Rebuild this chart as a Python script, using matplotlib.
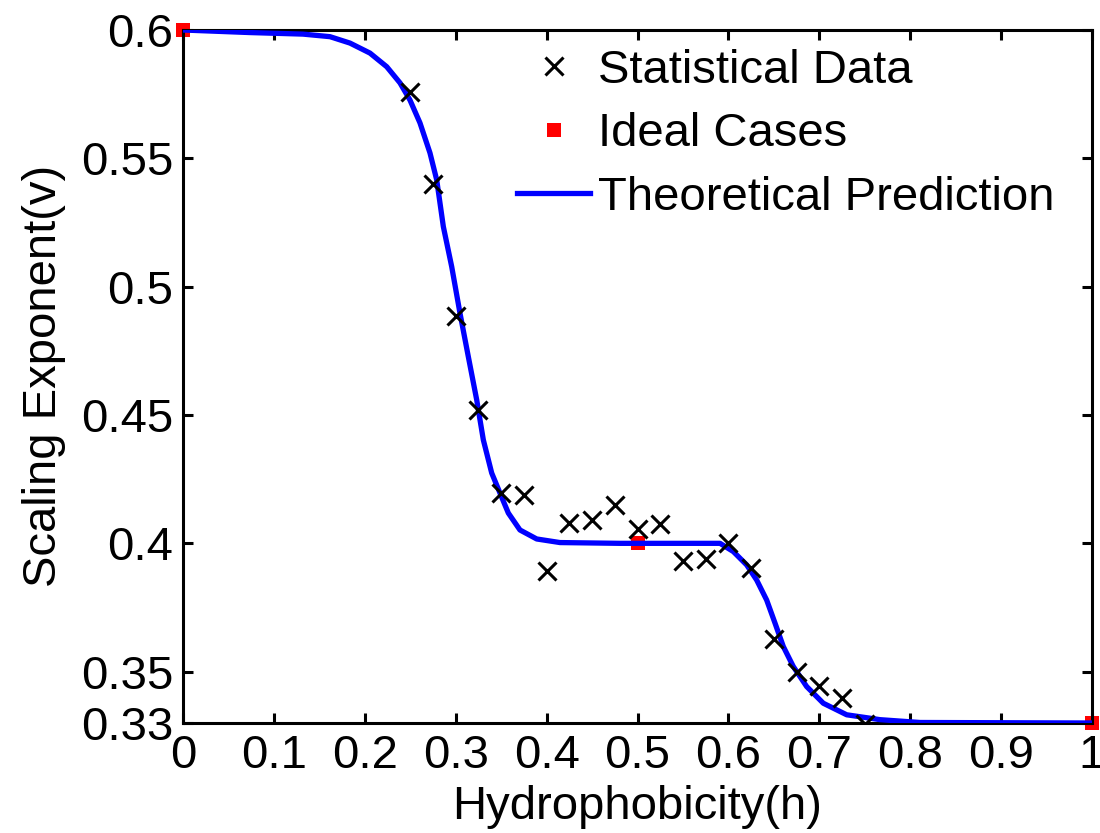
import matplotlib
matplotlib.use("Agg")
import matplotlib.pyplot as plt

plt.rcParams['font.family'] = ['Liberation Sans', 'DejaVu Sans']

# statistical data
h_data = [0.25, 0.275, 0.3, 0.325, 0.35, 0.375, 0.4, 0.425, 0.45, 0.475, 0.5,
          0.525, 0.55, 0.575, 0.6, 0.625, 0.65, 0.675, 0.7, 0.725, 0.75]
v_data = [0.576, 0.540, 0.4886, 0.452, 0.4196, 0.419, 0.3893, 0.408, 0.4092,
          0.4148, 0.4054, 0.4076, 0.3932, 0.3939, 0.4003, 0.3902, 0.3627,
          0.350, 0.3446, 0.3397, 0.3298]

# ideal cases
h_ideal = [0, 0.5, 1]
v_ideal = [0.6, 0.4, 0.33]

# theoretical curve, points
h_theory = [0, 0.0737, 0.132, 0.1617, 0.1837, 0.2057, 0.2241, 0.2387, 0.2497,
            0.2607, 0.2717, 0.2791, 0.2864, 0.2956, 0.3047, 0.3139, 0.3231,
            0.3304, 0.3396, 0.3487, 0.3579, 0.3707, 0.3891, 0.4147, 0.4807,
            0.5908, 0.6054, 0.6201, 0.6311, 0.6421, 0.6513, 0.6604, 0.6714,
            0.6861, 0.7044, 0.7301, 0.7668, 0.8108, 1.0]
v_theory = [0.6, 0.599, 0.5984, 0.5974, 0.5949, 0.591, 0.5857, 0.5794, 0.5727,
            0.5638, 0.5521, 0.5416, 0.5234, 0.5078, 0.4897, 0.4727, 0.4559,
            0.4403, 0.4274, 0.4196, 0.4118, 0.4052, 0.4017, 0.4003, 0.4,
            0.4, 0.3968, 0.3916, 0.3857, 0.3779, 0.3689, 0.3598, 0.352,
            0.3442, 0.3377, 0.3332, 0.3313, 0.3302, 0.33]

xticks = [0, 0.1, 0.2, 0.3, 0.4, 0.5, 0.6, 0.7, 0.8, 0.9, 1]
xticklabels = ['0', '0.1', '0.2', '0.3', '0.4', '0.5', '0.6', '0.7', '0.8', '0.9', '1']
yticks = [0.33, 0.35, 0.4, 0.45, 0.5, 0.55, 0.6]
yticklabels = ['0.33', '0.35', '0.4', '0.45', '0.5', '0.55', '0.6']

fig = plt.figure(figsize=(11, 8.33), dpi=100)
ax = fig.add_axes([183 / 1100, 1 - 723 / 833, 909 / 1100, 693 / 833])

ax.plot(h_data, v_data, 'x', color='black', markersize=13, mew=2.2,
        zorder=4, label='Statistical Data')
ax.plot(h_ideal, v_ideal, 's', color='#ff0000', markersize=10, mew=0,
        clip_on=False, zorder=2, label='Ideal Cases')
ax.plot(h_theory, v_theory, '-', color='#0000ff', linewidth=3.8,
        zorder=3, label='Theoretical Prediction')

ax.set_xlim(0, 1)
ax.set_ylim(0.33, 0.6)
ax.set_xticks(xticks)
ax.set_xticklabels(xticklabels)
ax.set_yticks(yticks)
ax.set_yticklabels(yticklabels)

for sp in ax.spines.values():
    sp.set_linewidth(2.2)
ax.tick_params(direction='in', length=7, width=2.2, top=True, right=True,
               labelsize=34)
ax.tick_params(axis='x', pad=8)
ax.tick_params(axis='y', pad=7)

ax.set_xlabel('Hydrophobicity(h)', fontsize=34, labelpad=5)
fig.text(44 / 1100, 1 - 376 / 833, 'Scaling Exponent(v)', fontsize=34,
         rotation=90, ha='center', va='center')

ax.legend(loc='upper left', bbox_to_anchor=(517 / 1100, 1 - 49 / 833),
          bbox_transform=fig.transFigure, frameon=False, fontsize=34,
          borderpad=0, borderaxespad=0, labelspacing=0.41, handlelength=1.55,
          handletextpad=0.17, numpoints=1)

plt.savefig('out.png', dpi=100)
